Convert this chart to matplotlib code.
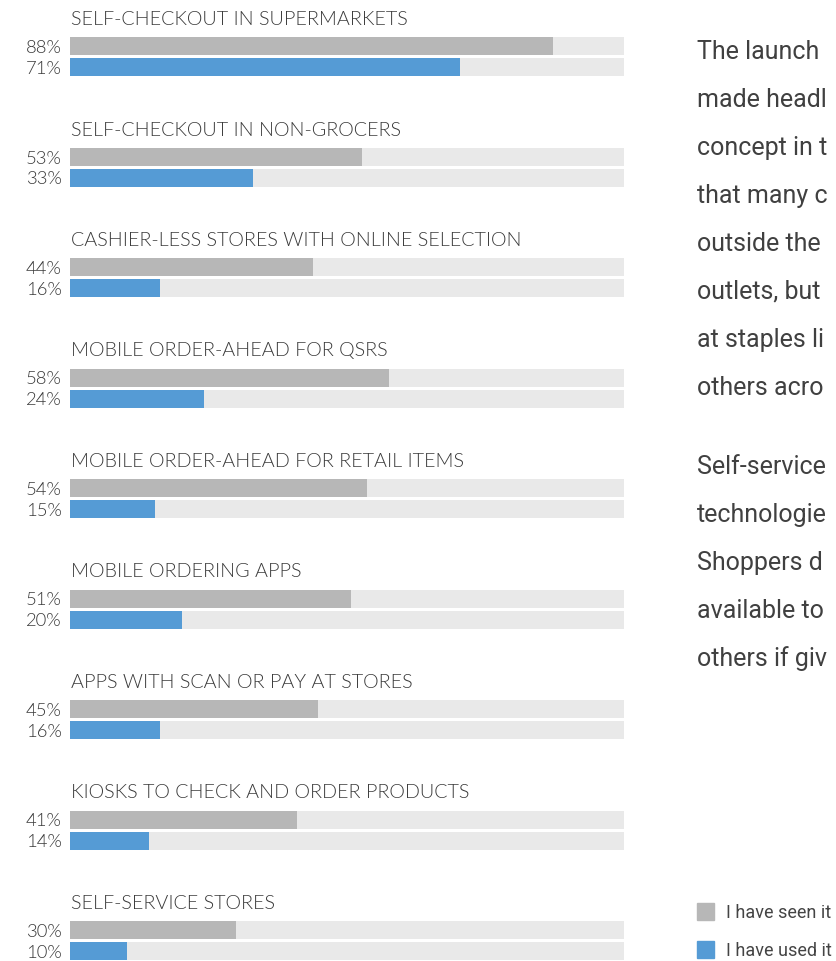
import matplotlib.pyplot as plt

# survey results, % of respondents
categories = [
    "SELF-CHECKOUT IN SUPERMARKETS",
    "SELF-CHECKOUT IN NON-GROCERS",
    "CASHIER-LESS STORES WITH ONLINE SELECTION",
    "MOBILE ORDER-AHEAD FOR QSRS",
    "MOBILE ORDER-AHEAD FOR RETAIL ITEMS",
    "MOBILE ORDERING APPS",
    "APPS WITH SCAN OR PAY AT STORES",
    "KIOSKS TO CHECK AND ORDER PRODUCTS",
    "SELF-SERVICE STORES",
]
seen = [88, 53, 44, 58, 54, 51, 45, 41, 30]
used = [71, 33, 16, 24, 15, 20, 16, 14, 10]
legend_labels = ["I have seen it", "I have used it"]

# body text as visible in the picture (cut by the page edge)
paragraphs = [
    ["The launch", "made headl", "concept in t", "that many c",
     "outside the", "outlets, but", "at staples li", "others acro"],
    ["Self-service", "technologie", "Shoppers d", "available to", "others if giv"],
]

GRAY = "#b7b7b7"
BLUE = "#559bd5"
TRACK = "#e9e9e9"
W, H = 836, 962

fig = plt.figure(figsize=(W / 100, H / 100), dpi=100)
ax = fig.add_axes([70 / W, 0, 554 / W, 1])
ax.set_xlim(-0.5, 101)
ax.set_ylim(H, 0)
ax.axis("off")

bar_h = 18
for i, (cat, s, u) in enumerate(zip(categories, seen, used)):
    yc = 47 + i * 110.5
    yb = yc + 21
    ax.barh([yc, yb], [101.5, 101.5], left=-0.5, height=bar_h, color=TRACK, linewidth=0)
    ax.barh(yc, s + 0.5, left=-0.5, height=bar_h, color=GRAY, linewidth=0)
    ax.barh(yb, u + 0.5, left=-0.5, height=bar_h, color=BLUE, linewidth=0)
    ax.text(-0.3, yc - 27.5, cat, fontsize=14.2, family="Lato", weight=300,
            color="#3a3a3a", va="center", ha="left")
    for y, v in ((yc, s), (yb, u)):
        ax.text(-2.0, y + 1, f"{v}%", fontsize=13.3, family="Lato", weight=300,
                color="#3a3a3a", va="center", ha="right", clip_on=False)

y = 52
for para in paragraphs:
    for line in para:
        fig.text(697 / W, 1 - y / H, line, fontsize=18, family="Roboto",
                 color="#404040", va="center", ha="left")
        y += 48
    y += 31

# legend
for k, (lab, col) in enumerate(zip(legend_labels, [GRAY, BLUE])):
    yy = 912 + k * 38
    fig.patches.append(plt.Rectangle((697 / W, 1 - (yy + 8.5) / H), 17 / W, 17 / H,
                                     transform=fig.transFigure, color=col))
    fig.text(726 / W, 1 - (yy + 1) / H, lab, fontsize=13, family="Roboto",
             color="#444444", va="center", ha="left")

fig.savefig("out.png", dpi=100)
